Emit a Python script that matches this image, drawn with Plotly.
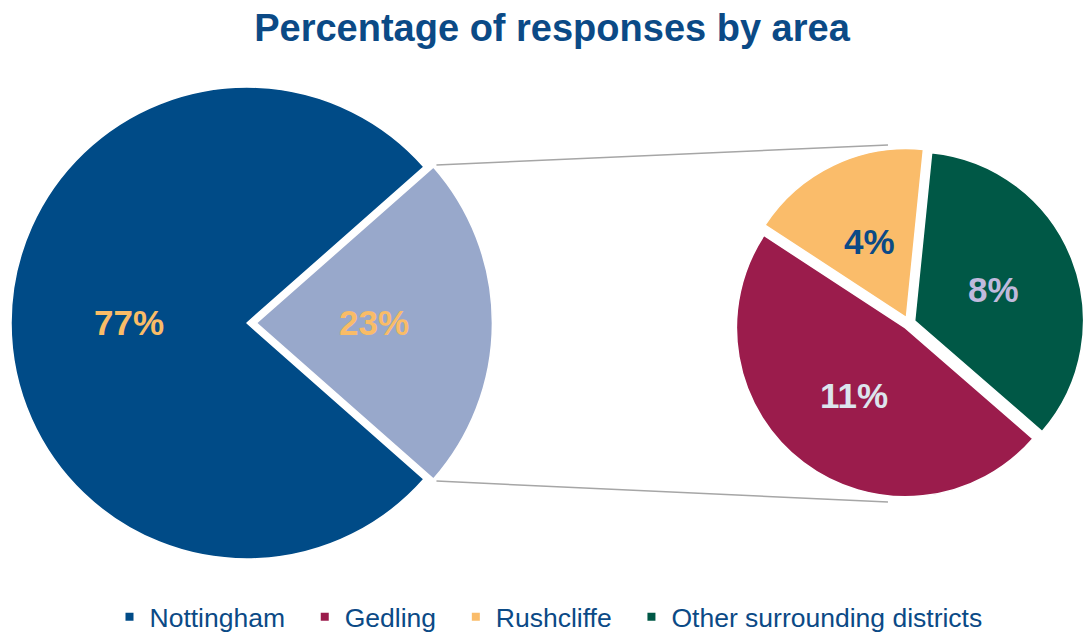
import math
import plotly.graph_objects as go

# ---- data ----
main_labels = ["Nottingham", "Surrounding areas"]
main_values = [77, 23]
main_colors = ["#004B87", "#98A8CB"]
main_text_colors = ["#F9BC67", "#F9BC67"]

detail_labels = ["Gedling", "Rushcliffe", "Other surrounding districts"]
detail_values = [11, 4, 8]
detail_colors = ["#9B1C4C", "#FABC6A", "#005846"]
detail_text_colors = ["#DCE5EE", "#0B4A86", "#C0BADD"]

legend_labels = ["Nottingham", "Gedling", "Rushcliffe", "Other surrounding districts"]
legend_colors = ["#004B87", "#9B1C4C", "#FABC6A", "#005846"]

title_text = "Percentage of responses by area"

# ---- layout geometry (pixels) ----
W, H = 1084, 632
BIG_CX, BIG_CY, BIG_R = 247, 323, 236
BIG_PULL = 0.04
SMALL_CX, SMALL_CY, SMALL_EXT = 909, 323, 175
SMALL_PULL = 0.036
SMALL_R = SMALL_EXT / (1 + SMALL_PULL)
LABEL_FRAC = 0.5
TEXT_BLUE = "#0B4A86"
FONT = "Liberation Sans, Arial, sans-serif"
LEGEND_PAD = "\u00a0\u00a0"


def px(x):
    return x / W


def py(y):
    return 1 - y / H


def domain(cx, cy, half):
    return dict(x=[px(cx - half), px(cx + half)], y=[py(cy + half), py(cy - half)])


# the "surrounding areas" slice is centred on 3 o'clock
main_share = main_values[1] / sum(main_values)
main_rotation = 90 + 180 * main_share
detail_rotation = 131

fig = go.Figure()

fig.add_trace(go.Pie(
    labels=main_labels, values=main_values, sort=False, direction="clockwise",
    rotation=main_rotation, pull=[0, BIG_PULL],
    marker=dict(colors=main_colors, line=dict(color="white", width=1.5)),
    textinfo="none", hoverinfo="label+percent", showlegend=False,
    domain=domain(BIG_CX, BIG_CY, BIG_R * (1 + BIG_PULL)),
))

fig.add_trace(go.Pie(
    labels=detail_labels, values=detail_values, sort=False, direction="clockwise",
    rotation=detail_rotation, pull=[SMALL_PULL] * len(detail_values),
    marker=dict(colors=detail_colors, line=dict(color="white", width=1.5)),
    textinfo="none", hoverinfo="label+value", showlegend=False,
    domain=domain(SMALL_CX, SMALL_CY, SMALL_EXT),
))

# legend entries
for name, col in zip(legend_labels, legend_colors):
    fig.add_trace(go.Scatter(
        x=[None], y=[None], mode="markers", name=name + LEGEND_PAD,
        marker=dict(symbol="square", size=8, color=col),
    ))


def slice_angles(values, rotation):
    """Start/end angles (degrees clockwise from 12 o'clock) of each slice."""
    total = sum(values)
    out = []
    a = rotation
    for v in values:
        span = 360 * v / total
        out.append((a, a + span))
        a += span
    return out


def point(cx, cy, r, ang):
    t = math.radians(ang)
    return cx + r * math.sin(t), cy - r * math.cos(t)


def value_label(x, y, v, col):
    return dict(x=px(x), y=py(y), xref="paper", yref="paper",
                xanchor="center", yanchor="middle",
                text=f"<b>{v}%</b>", showarrow=False,
                font=dict(family=FONT, size=35, color=col))


annotations = []

# value labels on the main pie
for (a0, a1), v, pull, col in zip(slice_angles(main_values, main_rotation), main_values,
                                  [0, BIG_PULL], main_text_colors):
    mid = (a0 + a1) / 2
    ox, oy = point(BIG_CX, BIG_CY, BIG_R * pull, mid)
    lx, ly = point(ox, oy, BIG_R * LABEL_FRAC, mid)
    annotations.append(value_label(lx, ly, v, col))

# value labels on the detail pie
for (a0, a1), v, col in zip(slice_angles(detail_values, detail_rotation), detail_values,
                            detail_text_colors):
    mid = (a0 + a1) / 2
    ox, oy = point(SMALL_CX, SMALL_CY, SMALL_R * SMALL_PULL, mid)
    lx, ly = point(ox, oy, SMALL_R * LABEL_FRAC, mid)
    annotations.append(value_label(lx, ly, v, col))

# connector lines from the exploded slice corners to the detail pie
(s0, s1) = slice_angles(main_values, main_rotation)[1]
mid = (s0 + s1) / 2
vx, vy = point(BIG_CX, BIG_CY, BIG_R * BIG_PULL, mid)
top_start = point(vx, vy, BIG_R, s0)
bot_start = point(vx, vy, BIG_R, s1)
top_end = (SMALL_CX - 0.12 * SMALL_EXT, SMALL_CY - SMALL_EXT - 3)
bot_end = (SMALL_CX - 0.12 * SMALL_EXT, SMALL_CY + SMALL_EXT + 4)
shapes = []
for (x0, y0), (x1, y1) in [(top_start, top_end), (bot_start, bot_end)]:
    shapes.append(dict(type="line", xref="paper", yref="paper",
                       x0=px(x0 + 3), y0=py(y0 - 2 if y0 < BIG_CY else y0 + 2),
                       x1=px(x1), y1=py(y1),
                       line=dict(color="#A6A6A6", width=1.5), layer="below"))

fig.update_layout(
    width=W, height=H, autosize=False,
    margin=dict(l=0, r=0, t=0, b=0, autoexpand=False),
    paper_bgcolor="white", plot_bgcolor="white",
    title=dict(text=f"<b>{title_text}</b>", x=552 / W, xanchor="center",
               y=1 - 28 / H, yanchor="middle", yref="container",
               font=dict(family=FONT, size=38, color=TEXT_BLUE)),
    xaxis=dict(visible=False), yaxis=dict(visible=False),
    showlegend=True,
    legend=dict(orientation="h", x=556 / W, xanchor="center", y=1 - 617 / H,
                yanchor="middle", font=dict(family=FONT, size=26.5, color=TEXT_BLUE),
                bgcolor="rgba(0,0,0,0)", itemclick=False, itemdoubleclick=False),
    annotations=annotations,
    shapes=shapes,
)

fig.write_html("out.html")
